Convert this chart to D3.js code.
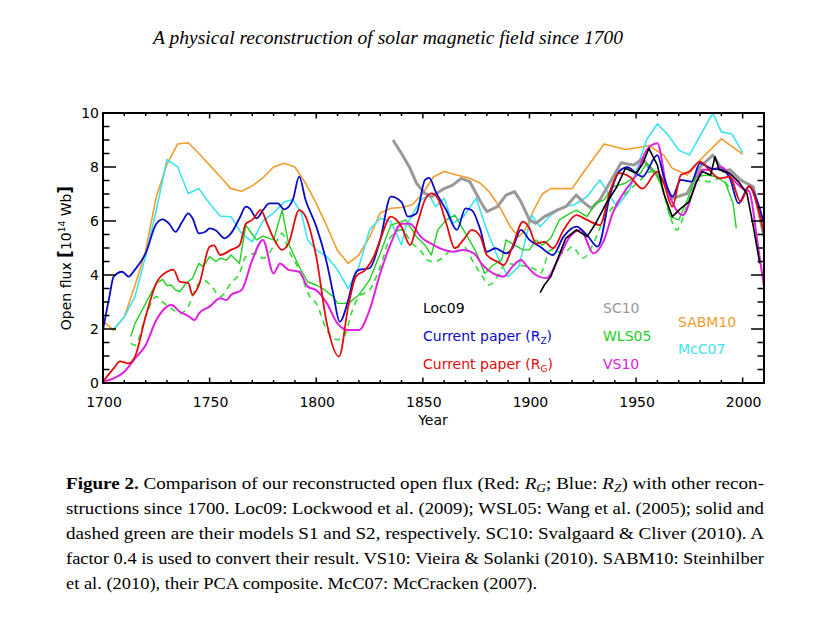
<!DOCTYPE html>
<html><head><meta charset="utf-8">
<script src="https://cdn.jsdelivr.net/npm/d3@7"></script>
<style>body{margin:0;background:#fff}svg{display:block}</style>
</head><body>
<script>
// ---- data (year, open flux in 1e14 Wb) ----
const sabm10 = [[1700,2.3],[1705,1.95],[1710,2.45],[1715,3.6],[1720,4.9],[1725,6.9],[1730,8.1],[1735,8.85],[1740,8.9],[1745,8.5],[1750,8.07],[1755,7.64],[1760,7.2],[1765,7.1],[1770,7.3],[1775,7.6],[1780,8.0],[1785,8.14],[1790,8.0],[1795,7.4],[1800,6.65],[1805,5.8],[1810,4.9],[1815,4.43],[1820,4.74],[1825,5.4],[1830,6.3],[1835,6.47],[1840,6.5],[1845,6.6],[1850,7.02],[1855,7.64],[1860,7.83],[1866,7.7],[1872,7.58],[1877,7.4],[1881,7.09],[1886,6.53],[1891,5.79],[1895,5.42],[1898,5.67],[1902,6.4],[1906,7.0],[1910,7.2],[1920,7.2],[1925,7.77],[1935,8.85],[1945,8.65],[1956,8.79],[1963,8.44],[1967,7.95],[1974,7.7],[1980,8.26],[1990,9.04],[2000,8.48]];
const mcc07 = [[1705,2.0],[1710,2.45],[1715,3.2],[1720,4.7],[1725,6.4],[1730,8.28],[1735,8.0],[1740,7.02],[1745,7.2],[1750,6.65],[1755,6.18],[1760,6.16],[1765,5.54],[1770,5.23],[1775,6.0],[1780,6.3],[1785,6.7],[1789,6.8],[1793,6.3],[1796,5.3],[1800,4.93],[1805,4.68],[1810,4.19],[1815,3.5],[1820,4.3],[1825,5.67],[1830,6.1],[1835,5.98],[1840,5.11],[1842,5.79],[1849,6.78],[1853,6.96],[1856,6.53],[1860,6.84],[1864,5.91],[1869,6.16],[1875,6.84],[1880,5.67],[1885,4.68],[1890,3.94],[1895,4.31],[1901,6.22],[1905,5.79],[1910,6.22],[1916,6.53],[1921,6.6],[1927,6.9],[1933,7.52],[1941,6.53],[1947,7.15],[1955,9.02],[1960,9.6],[1965,9.19],[1970,8.63],[1975,8.44],[1986,10.0],[1990,9.3],[1995,9.22],[2000,8.53]];
const currentRz = [[1700,1.96],[1703,3.2],[1705,3.94],[1709,4.12],[1712,3.94],[1715,4.2],[1720,4.8],[1725,5.9],[1728,6.06],[1731,5.9],[1734,5.6],[1737,5.95],[1740,6.28],[1742,6.1],[1745,5.54],[1748,5.6],[1750,5.73],[1753,5.65],[1757,5.36],[1760,5.54],[1764,6.1],[1767,6.53],[1769,6.45],[1772,6.1],[1775,6.4],[1778,6.65],[1782,6.65],[1785,6.43],[1789,6.78],[1792,7.64],[1795,6.78],[1800,5.8],[1805,4.43],[1808,3.3],[1811,2.27],[1815,3.07],[1818,4.0],[1820,4.19],[1825,4.25],[1830,5.3],[1835,6.9],[1840,6.7],[1843,6.16],[1847,6.28],[1851,7.52],[1853,7.6],[1856,7.09],[1861,6.4],[1866,5.67],[1870,6.47],[1873,6.4],[1877,5.67],[1880,4.86],[1884,4.99],[1889,4.8],[1892,4.99],[1896,5.67],[1900,5.3],[1905,5.05],[1911,4.74],[1916,5.42],[1922,5.79],[1927,5.48],[1932,5.05],[1938,7.02],[1942,7.83],[1946,7.99],[1950,7.77],[1953,7.64],[1960,8.44],[1963,7.64],[1967,6.9],[1971,7.52],[1976,7.46],[1980,8.14],[1985,7.95],[1990,7.9],[1994,7.58],[1998,6.65],[2003,7.27],[2007,6.7],[2010,5.9]];
const currentRg = [[1700,0.05],[1705,0.54],[1708,0.8],[1712,0.73],[1715,0.98],[1720,2.46],[1725,3.7],[1730,4.12],[1733,4.2],[1736,3.75],[1740,3.7],[1742,3.26],[1745,3.63],[1750,5.05],[1752,5.1],[1755,4.74],[1760,4.93],[1764,5.1],[1767,5.9],[1770,6.04],[1774,6.4],[1777,5.9],[1780,5.36],[1784,4.93],[1787,5.17],[1792,6.4],[1795,6.16],[1800,4.68],[1805,2.2],[1810.7,0.98],[1815,2.83],[1818.6,3.94],[1823,4.19],[1827,4.68],[1830,5.3],[1835,6.16],[1840,5.79],[1844,5.11],[1847,5.79],[1851,6.78],[1854,7.02],[1857,6.84],[1861,5.91],[1865,4.99],[1869,5.3],[1873,5.67],[1877,5.42],[1880,4.74],[1885,4.49],[1888,4.37],[1892,5.05],[1897,5.98],[1900,5.73],[1903,5.17],[1907,5.23],[1911,4.99],[1916,5.67],[1922,6.22],[1927,6.04],[1933,5.85],[1938,7.15],[1942,7.77],[1947,7.64],[1953,7.2],[1960,7.83],[1963,7.4],[1967,6.53],[1971,7.7],[1975,7.83],[1980,8.2],[1985,7.83],[1989,7.58],[1994,7.64],[1999,6.72],[2003,7.3],[2007,6.53],[2010,5.54]];
const vs10 = [[1700,0.05],[1705,0.17],[1710,0.42],[1715,0.91],[1720,1.4],[1725,2.33],[1730,2.83],[1732,2.9],[1736,2.64],[1740,2.48],[1743,2.33],[1745,2.58],[1750,2.83],[1755,3.14],[1758,3.07],[1760,3.26],[1765,3.44],[1770,4.55],[1775,5.3],[1780,4.06],[1783,4.43],[1787,4.19],[1792,4.12],[1796,3.57],[1800,3.44],[1805,2.95],[1810,2.2],[1815,1.96],[1820,1.96],[1825,2.7],[1830,4.06],[1835,5.17],[1840,5.9],[1844,5.9],[1849,5.42],[1855,5.11],[1860,4.93],[1864,4.86],[1869,4.93],[1874,4.8],[1878,4.37],[1883,4.06],[1888,3.94],[1892,4.31],[1896,4.56],[1899,4.31],[1903,4.0],[1908,3.88],[1914,4.68],[1919,5.42],[1924,5.67],[1930,4.8],[1935,5.3],[1939,6.28],[1944,7.02],[1950,7.7],[1955,8.63],[1960,8.88],[1964,7.4],[1969,6.4],[1972,6.22],[1977,7.15],[1981,7.9],[1985,7.9],[1990,8.0],[1995,7.58],[2000,7.2],[2003,7.1],[2007,5.17],[2010,3.57]];
const wls05S1 = [[1713,1.72],[1715,2.2],[1720,2.95],[1725,3.7],[1728,3.84],[1730,3.6],[1732,3.63],[1734,3.45],[1736,3.38],[1739,3.7],[1742,3.88],[1745,4.43],[1747,4.3],[1750,4.68],[1753,4.5],[1755,4.62],[1758,4.55],[1760,4.74],[1764,4.43],[1767,5.85],[1770,5.5],[1772,5.3],[1775,5.44],[1780,5.3],[1784,6.4],[1787,5.17],[1792,4.3],[1796,3.75],[1800,3.63],[1803,3.5],[1805,3.38],[1808,3.2],[1810,2.95],[1815,2.95],[1820,3.26],[1825,3.81],[1830,4.8],[1835,5.85],[1840,5.98],[1842,6.04],[1847,5.42],[1851,5.11],[1854,4.74],[1857,5.67],[1861,6.04],[1865,6.22],[1870,5.54],[1875,4.86],[1879,4.06],[1883,4.37],[1887,4.56],[1889,5.3],[1893,5.11],[1897,4.93],[1900,4.93],[1903,5.3],[1906,5.1],[1910,5.36],[1914,6.04],[1919,6.28],[1922,6.4],[1927,6.16],[1931,6.65],[1935,6.78],[1939,7.27],[1945,7.4],[1952,7.77],[1955,8.14],[1959,7.83],[1963,7.09],[1966,6.16],[1970,6.04],[1974,6.78],[1978,7.64],[1983,7.7],[1988,7.64],[1992,7.4],[1995.5,6.65],[1997,5.73]];
const wls05S2 = [[1713,1.47],[1715,1.4],[1720,2.46],[1725,3.2],[1728,3.0],[1732,2.77],[1736,2.58],[1740,2.83],[1743,3.44],[1747,3.81],[1751,3.57],[1755,3.2],[1760,3.7],[1764,4.06],[1767,4.68],[1772,4.8],[1775,4.62],[1780,5.05],[1784,5.54],[1787,4.93],[1792,4.19],[1797,3.2],[1800,2.95],[1805,1.96],[1810,1.6],[1813,1.72],[1817,2.7],[1820,3.2],[1825,3.44],[1830,4.3],[1835,5.42],[1840,5.67],[1845,5.17],[1849,4.9],[1852,4.56],[1855,4.49],[1860,4.68],[1864,4.99],[1869,5.05],[1874,4.43],[1878,3.94],[1881,3.63],[1885,3.94],[1889,4.43],[1894,4.37],[1899,4.31],[1903,4.19],[1905,4.06],[1910,4.93],[1916,4.8],[1920,5.05],[1925,4.62],[1930,5.17],[1934,5.91],[1938,6.4],[1942,6.78],[1947,7.15],[1952,7.52],[1957,7.83],[1962,7.27],[1966,6.16],[1969,5.67],[1974,6.6],[1978,7.52],[1985,7.46],[1989,7.58],[1994,7.2]];
const sc10 = [[1836,9.0],[1840,8.5],[1844,7.95],[1847,7.4],[1851,7.02],[1854,6.9],[1860,7.2],[1864,7.33],[1868,7.58],[1872,7.46],[1877,6.72],[1880,6.35],[1885,6.53],[1889,6.96],[1893,7.09],[1896,6.72],[1900,6.04],[1903,5.91],[1907,6.16],[1913,6.4],[1917,6.53],[1922,6.96],[1925,6.72],[1929,6.47],[1933,6.78],[1938,7.46],[1943,8.16],[1949,8.07],[1953,8.32],[1956,8.0],[1963,7.46],[1967,6.84],[1974,7.02],[1980,8.0],[1986,8.44],[1991,7.83],[1994,7.9],[1999,7.52],[2005,7.27],[2010,5.42]];
const loc09 = [[1905,3.35],[1907,3.63],[1910,3.94],[1913,4.55],[1917,5.36],[1922,5.67],[1927,5.42],[1931,5.9],[1936,6.65],[1941,7.27],[1945,7.95],[1950,7.77],[1953,8.1],[1956,8.69],[1960,8.07],[1963,7.02],[1967,6.16],[1971,6.47],[1975,6.72],[1978,7.4],[1981,7.83],[1985,7.7],[1987,8.38],[1989,7.9],[1994,7.77],[1998,7.46],[2002,7.02],[2005,5.79],[2008,4.43]];

const xTicks = [1700,1750,1800,1850,1900,1950,2000];
const yTicks = [0,2,4,6,8,10];
const title = "A physical reconstruction of solar magnetic field since 1700";
const captionLines = [
  "structions since 1700. Loc09: Lockwood et al. (2009); WSL05: Wang et al. (2005); solid and",
  "dashed green are their models S1 and S2, respectively. SC10: Svalgaard & Cliver (2010). A",
  "factor 0.4 is used to convert their result. VS10: Vieira & Solanki (2010). SABM10: Steinhilber",
  "et al. (2010), their PCA composite. McC07: McCracken (2007)."
];

// ---- drawing ----
const W = 828, H = 618;
const svg = d3.select("body").append("svg").attr("width", W).attr("height", H);
svg.append("rect").attr("width", W).attr("height", H).attr("fill", "#fff");

const L = 103, R = 764, T = 113, B = 383;
const x = d3.scaleLinear().domain([1700, 2010]).range([L, R]);
const y = d3.scaleLinear().domain([0, 10]).range([B, T]);

const sans = "DejaVu Sans, sans-serif";
const serif = "Liberation Serif, Times New Roman, serif";

svg.append("text").attr("x", 153).attr("y", 44).attr("font-family", serif)
  .attr("font-style", "italic").attr("font-size", 19)
  .attr("textLength", 470).attr("lengthAdjust", "spacingAndGlyphs").text(title);

const plot = svg.append("g");
const clip = svg.append("clipPath").attr("id", "c").append("rect")
  .attr("x", L).attr("y", T - 2).attr("width", R - L).attr("height", B - T + 2);

const series = [
  {d: sabm10, c: "#f39c2c", w: 1.6, curve: d3.curveLinear},
  {d: mcc07, c: "#3ee3f3", w: 1.6, curve: d3.curveLinear},
  {d: sc10, c: "#999999", w: 3, curve: d3.curveLinear},
  {d: wls05S2, c: "#33dd33", w: 1.6, dash: "6,5", curve: d3.curveMonotoneX},
  {d: wls05S1, c: "#22d022", w: 1.4, curve: d3.curveLinear},
  {d: vs10, c: "#e020e0", w: 2, curve: d3.curveMonotoneX},
  {d: currentRz, c: "#0a0ac8", w: 1.8, curve: d3.curveMonotoneX},
  {d: currentRg, c: "#e30b0b", w: 1.8, curve: d3.curveMonotoneX},
  {d: loc09, c: "#000000", w: 1.6, curve: d3.curveLinear}
];
const lines = plot.append("g").attr("clip-path", "url(#c)");
series.forEach(s => {
  const gen = d3.line().x(p => x(p[0])).y(p => y(p[1])).curve(s.curve);
  lines.append("path").attr("d", gen(s.d)).attr("fill", "none")
    .attr("stroke", s.c).attr("stroke-width", s.w)
    .attr("stroke-dasharray", s.dash || null).attr("stroke-linejoin", "round");
});

// axes (ticks inward, IDL style)
const ax = plot.append("g").attr("stroke", "#000");
const xMinor = d3.range(1700, 2011, 10);
const yMinor = d3.range(0, 10.01, 0.5);
xMinor.forEach(v => {
  const len = xTicks.includes(v) ? 5.5 : 3;
  ax.append("line").attr("x1", x(v)).attr("x2", x(v)).attr("y1", B).attr("y2", B - len).attr("stroke-width", 1.5);
  ax.append("line").attr("x1", x(v)).attr("x2", x(v)).attr("y1", T).attr("y2", T + len).attr("stroke-width", 1.5);
});
yMinor.forEach(v => {
  const len = Number.isInteger(v / 2) ? 13 : 6.5;
  ax.append("line").attr("y1", y(v)).attr("y2", y(v)).attr("x1", L).attr("x2", L + len).attr("stroke-width", 1.5);
  ax.append("line").attr("y1", y(v)).attr("y2", y(v)).attr("x1", R).attr("x2", R - len).attr("stroke-width", 1.5);
});
ax.append("rect").attr("x", L).attr("y", T).attr("width", R - L).attr("height", B - T)
  .attr("fill", "none").attr("stroke-width", 2);

const tl = plot.append("g").attr("font-family", sans).attr("font-size", 14).attr("fill", "#000");
xTicks.forEach(v => tl.append("text").attr("x", x(v) + 1).attr("y", 407).attr("text-anchor", "middle").text(v));
yTicks.forEach(v => tl.append("text").attr("x", L - 4).attr("y", y(v) + 5).attr("text-anchor", "end").text(v));
tl.append("text").attr("x", 433).attr("y", 425).attr("text-anchor", "middle").text("Year");
const yl = tl.append("text").attr("transform", "translate(71,258) rotate(-90)").attr("text-anchor", "middle");
yl.append("tspan").text("Open flux ");
yl.append("tspan").attr("font-size", 17).attr("font-weight", "bold").text("[");
yl.append("tspan").text("10");
yl.append("tspan").attr("font-size", 9).attr("dy", -6).text("14");
yl.append("tspan").attr("dy", 6).text(" Wb");
yl.append("tspan").attr("font-size", 17).attr("font-weight", "bold").text("]");

// legend
const legend = [
  {t: "Loc09", c: "#000000", x: 423, y: 313},
  {t: "Current paper (R", sub: "Z", c: "#0a0ac8", x: 423, y: 341},
  {t: "Current paper (R", sub: "G", c: "#e30b0b", x: 423, y: 369},
  {t: "SC10", c: "#999999", x: 603, y: 313},
  {t: "WLS05", c: "#22d022", x: 603, y: 341},
  {t: "VS10", c: "#e020e0", x: 603, y: 369},
  {t: "SABM10", c: "#f39c2c", x: 678, y: 327},
  {t: "McC07", c: "#3ee3f3", x: 678, y: 354}
];
legend.forEach(l => {
  const t = tl.append("text").attr("x", l.x).attr("y", l.y).attr("fill", l.c);
  t.append("tspan").text(l.t);
  if (l.sub) {
    t.append("tspan").attr("font-size", 9).attr("dy", 3).text(l.sub);
    t.append("tspan").attr("dy", -3).text(")");
  }
});

// caption
const cap = svg.append("g").attr("font-family", serif).attr("font-size", 17).attr("fill", "#000");
const c1 = cap.append("text").attr("x", 66).attr("y", 489).attr("textLength", 698).attr("lengthAdjust", "spacingAndGlyphs");
c1.append("tspan").attr("font-weight", "bold").text("Figure 2.");
c1.append("tspan").text(" Comparison of our reconstructed open flux (Red: ");
c1.append("tspan").attr("font-style", "italic").text("R");
c1.append("tspan").attr("font-style", "italic").attr("font-size", 12).attr("dy", 3).text("G");
c1.append("tspan").attr("dy", -3).text("; Blue: ");
c1.append("tspan").attr("font-style", "italic").text("R");
c1.append("tspan").attr("font-style", "italic").attr("font-size", 12).attr("dy", 3).text("Z");
c1.append("tspan").attr("dy", -3).text(") with other recon-");
const widths = [698, 698, 698, 471];
captionLines.forEach((s, i) => {
  cap.append("text").attr("x", 66).attr("y", 514 + i * 25)
    .attr("textLength", widths[i]).attr("lengthAdjust", "spacingAndGlyphs").text(s);
});
</script>
</body></html>
